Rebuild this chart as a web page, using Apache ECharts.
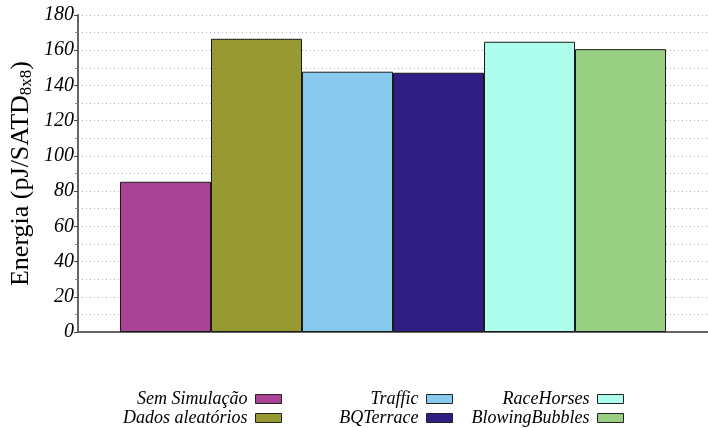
<!DOCTYPE html>
<html>
<head>
<meta charset="utf-8">
<script src="https://cdn.jsdelivr.net/npm/echarts@6/dist/echarts.min.js"></script>
<style>
html, body { margin: 0; padding: 0; background: #fff; }
#container { width: 708px; height: 428px; }
</style>
</head>
<body>
<div id="container"></div>
<script>
var seriesNames = ['Sem Simulação', 'Dados aleatórios', 'Traffic', 'BQTerrace', 'RaceHorses', 'BlowingBubbles'];
var energyValues = [85.3, 166.5, 147.8, 147.2, 164.8, 160.6];
var barColors = ['#a94494', '#979933', '#88caee', '#2f1f84', '#aefeee', '#99cf82'];
// legend layout: column right edges and row tops
var legendRight = [426, 426, 255, 255, 84, 84];
var legendTop = [390, 409, 390, 409, 390, 409];

window.onload = function()
{
var myChart = echarts.init(document.getElementById('container'));
var font = 'Liberation Serif';

var series = seriesNames.map(function(name, i) {
    return {
        name: name,
        type: 'bar',
        barWidth: 91,
        barGap: '0%',
        data: [energyValues[i]],
        itemStyle: {
            color: barColors[i],
            borderColor: '#1a1a1a',
            borderWidth: 1
        }
    };
});

var legends = seriesNames.map(function(name, i) {
    return {
        data: [name],
        right: legendRight[i],
        top: legendTop[i],
        align: 'right',
        padding: 0,
        itemWidth: 26,
        itemHeight: 9,
        selectedMode: false,
        icon: 'rect',
        itemStyle: { borderColor: '#222', borderWidth: 1 },
        textStyle: { fontFamily: font, fontStyle: 'italic', fontSize: 18, color: '#000', padding: [0, 3, 0, 0] }
    };
});

option = {
    animation: false,
    grid: { left: 75, right: -4, top: 15, bottom: 96 },
    legend: legends,
    xAxis: {
        type: 'category',
        data: [''],
        axisTick: { show: false },
        axisLabel: { show: false },
        axisLine: { lineStyle: { color: '#666', width: 2 } }
    },
    yAxis: {
        type: 'value',
        min: 0,
        max: 180,
        interval: 20,
        name: '{n|Energia (pJ/SATD}{s|8x8}{n|)}',
        nameLocation: 'middle',
        nameGap: 43,
        nameMoveOverlap: false,
        nameTextStyle: {
            rich: {
                n: { fontFamily: font, fontSize: 26, color: '#000' },
                s: { fontFamily: font, fontSize: 17, color: '#000', verticalAlign: 'bottom', padding: [11, 0, 0, 0] }
            }
        },
        axisLine: { show: true, lineStyle: { color: '#666', width: 2 } },
        axisTick: { show: true, length: 4, lineStyle: { color: '#444' } },
        minorTick: { show: true, splitNumber: 2, length: 3, lineStyle: { color: '#888' } },
        axisLabel: { fontFamily: font, fontStyle: 'italic', fontSize: 20, color: '#000', margin: 4 },
        splitLine: { show: true, lineStyle: { color: '#b0b0b0', type: [1, 3], width: 1 } },
        minorSplitLine: { show: true, lineStyle: { color: '#b0b0b0', type: [1, 3], width: 1 } }
    },
    series: series
};

myChart.setOption(option);
};
</script>
</body>
</html>
